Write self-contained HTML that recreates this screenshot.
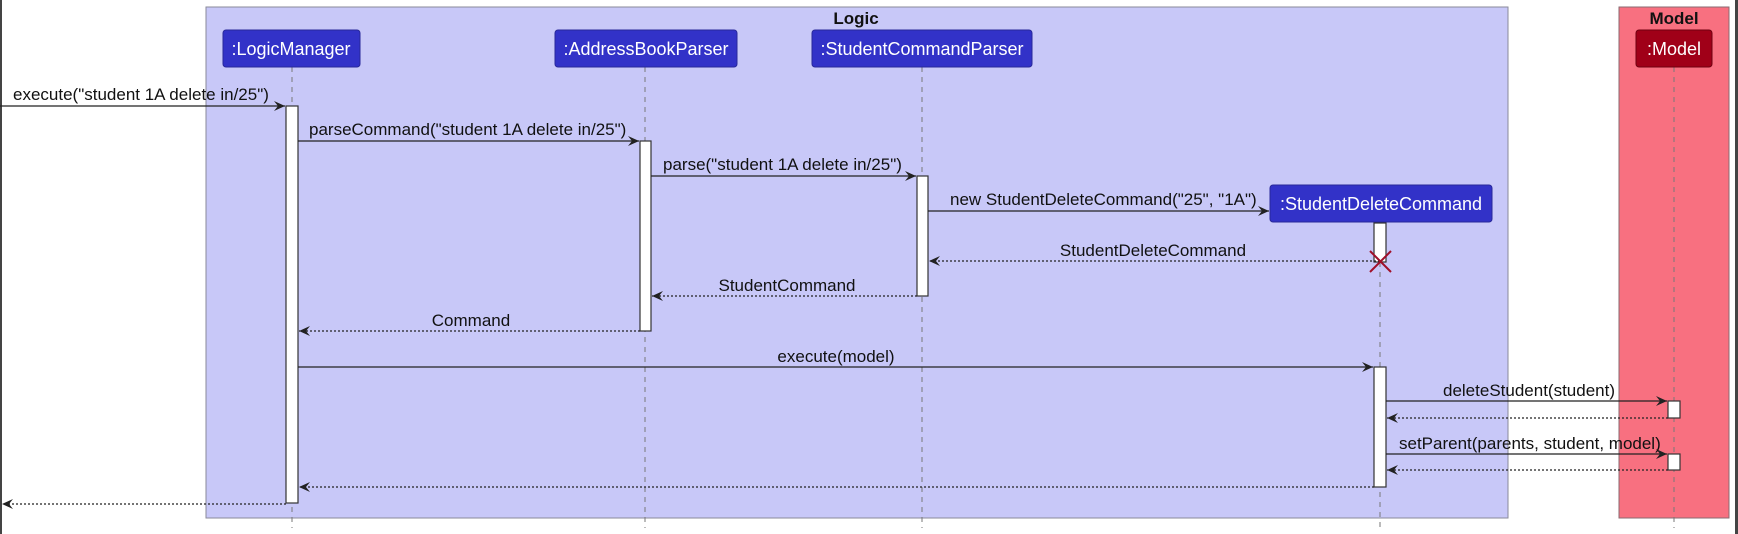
<!DOCTYPE html>
<html><head><meta charset="utf-8"><style>
html,body{margin:0;padding:0;background:#fff;}
svg{display:block;}
text{font-family:"Liberation Sans",sans-serif;font-size:17px;fill:#111;}
.p{fill:#fff;font-size:18px;}
.t{font-size:17px;font-weight:bold;}
</style></head><body>
<svg width="1738" height="534" viewBox="0 0 1738 534" xmlns="http://www.w3.org/2000/svg">
<defs>
<marker id="a" markerWidth="12" markerHeight="10" refX="11" refY="5" orient="auto" markerUnits="userSpaceOnUse">
<path d="M0,0 L11,5 L0,10 L4,5 Z" fill="#222"/></marker>
</defs>
<rect x="0" y="0" width="2" height="534" fill="#444"/>
<rect x="1735" y="0" width="3" height="534" fill="#444"/>
<rect x="206" y="7" width="1302" height="511" fill="#C8C8F8" stroke="#8a8a9a" stroke-width="1"/>
<text class="t" x="856" y="24" text-anchor="middle">Logic</text>
<rect x="1619" y="7" width="110" height="511" fill="#F87080" stroke="#8a6a70" stroke-width="1"/>
<text class="t" x="1674" y="24" text-anchor="middle">Model</text>
<g stroke="#777" stroke-width="1" stroke-dasharray="5,5">
<line x1="292" y1="67" x2="292" y2="528"/>
<line x1="645" y1="67" x2="645" y2="528"/>
<line x1="922" y1="67" x2="922" y2="528"/>
<line x1="1380" y1="222" x2="1380" y2="528"/>
<line x1="1674" y1="67" x2="1674" y2="528"/>
</g>
<g fill="#3232C8" stroke="#28289a" stroke-width="1">
<rect x="223" y="30" width="137" height="37" rx="3"/>
<rect x="555" y="30" width="182" height="37" rx="3"/>
<rect x="812" y="30" width="220" height="37" rx="3"/>
<rect x="1270" y="185" width="222" height="37" rx="3"/>
</g>
<rect x="1636" y="30" width="76" height="37" rx="3" fill="#A00018" stroke="#700010"/>
<text class="p" x="291" y="55" text-anchor="middle">:LogicManager</text>
<text class="p" x="646" y="55" text-anchor="middle">:AddressBookParser</text>
<text class="p" x="922" y="55" text-anchor="middle">:StudentCommandParser</text>
<text class="p" x="1381" y="210" text-anchor="middle">:StudentDeleteCommand</text>
<text class="p" x="1674" y="55" text-anchor="middle">:Model</text>
<g fill="#fff" stroke="#333" stroke-width="1.2">
<rect x="286" y="106" width="12" height="397"/>
<rect x="640" y="141" width="11" height="190"/>
<rect x="917" y="176" width="11" height="120"/>
<rect x="1374" y="223" width="12" height="39"/>
<rect x="1374" y="367" width="12" height="120"/>
<rect x="1668" y="401" width="12" height="17"/>
<rect x="1668" y="454" width="12" height="16"/>
</g>
<g stroke="#222" stroke-width="1.3" marker-end="url(#a)">
<line x1="0" y1="106" x2="285" y2="106"/>
<line x1="298" y1="141" x2="639" y2="141"/>
<line x1="651" y1="176" x2="916" y2="176"/>
<line x1="928" y1="211" x2="1269" y2="211"/>
<line x1="298" y1="367" x2="1373" y2="367"/>
<line x1="1386" y1="401" x2="1667" y2="401"/>
<line x1="1386" y1="454" x2="1667" y2="454"/>
</g>
<g stroke="#222" stroke-width="1.3" stroke-dasharray="2,2" marker-end="url(#a)">
<line x1="1380" y1="261" x2="929" y2="261"/>
<line x1="917" y1="296" x2="652" y2="296"/>
<line x1="640" y1="331" x2="299" y2="331"/>
<line x1="1668" y1="418" x2="1387" y2="418"/>
<line x1="1668" y1="470" x2="1387" y2="470"/>
<line x1="1374" y1="487" x2="299" y2="487"/>
<line x1="286" y1="504" x2="2" y2="504"/>
</g>
<g stroke="#A0102A" stroke-width="2">
<line x1="1370" y1="251" x2="1391" y2="272"/>
<line x1="1391" y1="251" x2="1370" y2="272"/>
</g>
<text x="13" y="100">execute("student 1A delete in/25")</text>
<text x="309" y="135">parseCommand("student 1A delete in/25")</text>
<text x="663" y="170">parse("student 1A delete in/25")</text>
<text x="950" y="205">new StudentDeleteCommand("25", "1A")</text>
<text x="1153" y="256" text-anchor="middle">StudentDeleteCommand</text>
<text x="787" y="291" text-anchor="middle">StudentCommand</text>
<text x="471" y="326" text-anchor="middle">Command</text>
<text x="836" y="362" text-anchor="middle">execute(model)</text>
<text x="1443" y="396">deleteStudent(student)</text>
<text x="1399" y="449">setParent(parents, student, model)</text>
</svg>
</body></html>
